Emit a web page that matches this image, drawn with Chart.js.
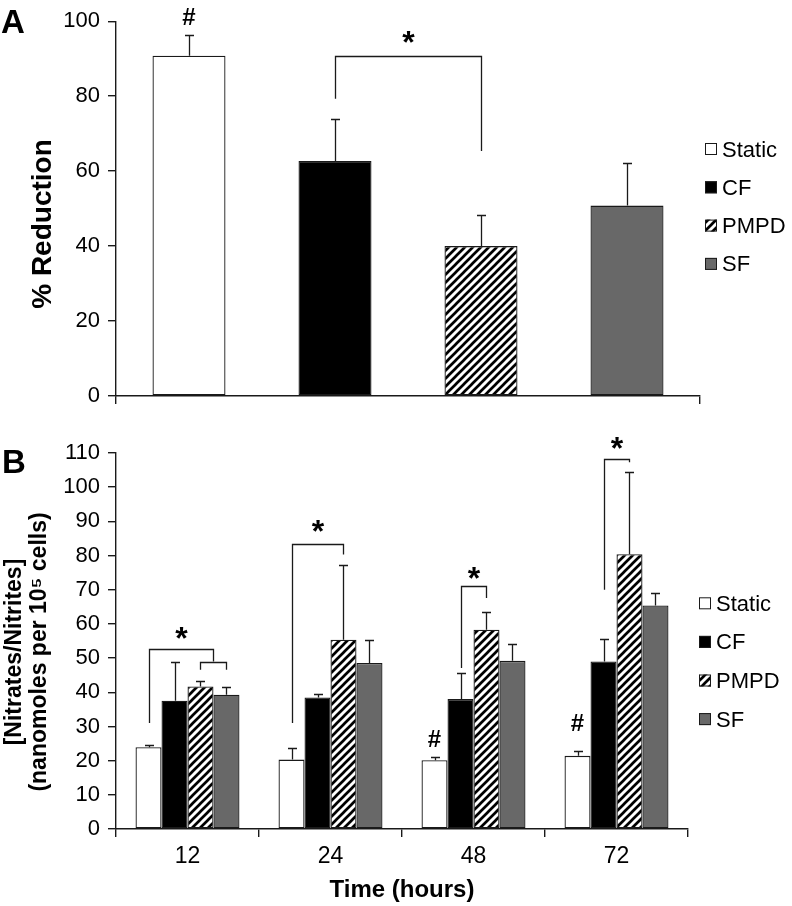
<!DOCTYPE html>
<html><head><meta charset="utf-8">
<script src="https://cdn.jsdelivr.net/npm/chart.js@4.4.1/dist/chart.umd.min.js"></script>
<style>
html,body{margin:0;padding:0;background:#fff;}
#wrap{position:relative;width:792px;height:906px;background:#fff;}
canvas{position:absolute;left:0;}
#cA{top:0;} #cB{top:420px;}
</style></head><body>
<div id="wrap"><canvas id="cA" width="792" height="420"></canvas><canvas id="cB" width="792" height="486"></canvas></div>
<script>
// ---------- data ----------
const seriesNames = ['Static', 'CF', 'PMPD', 'SF'];

// Panel A: % Reduction
const reductionMean = [90.8, 62.7, 40.0, 50.8];
const reductionErr  = [5.4, 11.3, 8.4, 11.4];

// Panel B: [Nitrates/Nitrites] by time
const timeLabels = ['12', '24', '48', '72'];
const staticNO = [23.9, 20.3, 20.1, 21.4];
const staticErr = [0.8, 3.4, 1.1, 1.5];
const cfNO = [37.5, 38.5, 38.0, 49.0];
const cfErr = [11.5, 1.0, 7.6, 6.7];
const pmpdNO = [41.7, 55.4, 58.3, 80.4];
const pmpdErr = [1.6, 21.9, 5.2, 24.0];
const sfNO = [39.3, 48.6, 49.2, 65.4];
const sfErr = [2.2, 6.6, 4.9, 3.5];

const yTicksA = [0, 20, 40, 60, 80, 100];
const yTicksB = [0, 10, 20, 30, 40, 50, 60, 70, 80, 90, 100, 110];

// significance brackets: category, dataset from/to, value heights
const bracketsA = [{cat: 0, from: 1, to: 2, fromBase: 79.3, top: 90.8, toBase: 65.4, star: 95.7}];
const bracketsB = [
  {cat: 0, from: 0, to: 2.5, fromBase: 31.0, top: 52.7, toBase: 49.0, star: 57.4},
  {cat: 0, from: 2, to: 3, fromBase: 46.6, top: 49.0, toBase: 46.6, star: null},
  {cat: 1, from: 0, to: 2, fromBase: 31.0, top: 83.5, toBase: 80.3, star: 88.5},
  {cat: 2, from: 1, to: 2, fromBase: 47.1, top: 71.0, toBase: 67.6, star: 74.9},
  {cat: 3, from: 1, to: 2, fromBase: 70.0, top: 108.2, toBase: 107.3, star: 112.9}
];
const hashesA = [{cat: 0, ds: 0, value: 101.2}];
const hashesB = [{cat: 2, ds: 0, value: 26.4}, {cat: 3, ds: 0, value: 31.2}];

// ---------- styles ----------
Chart.defaults.font.family = "'Liberation Sans', Arial, Helvetica, sans-serif";
Chart.defaults.color = '#000';

function hatchPattern() {
  const c = document.createElement('canvas');
  c.width = 8; c.height = 8;
  const g = c.getContext('2d');
  g.fillStyle = '#fff'; g.fillRect(0, 0, 8, 8);
  g.strokeStyle = '#000'; g.lineWidth = 2.7; g.lineCap = 'square';
  g.beginPath();
  g.moveTo(-2, 10); g.lineTo(10, -2);
  g.moveTo(-2, 2); g.lineTo(2, -2);
  g.moveTo(6, 10); g.lineTo(10, 6);
  g.stroke();
  return g.createPattern(c, 'repeat');
}
const fills = ['#ffffff', '#000000', hatchPattern(), '#686868'];

function makeDatasets(valuesList, errList) {
  return seriesNames.map((name, i) => ({
    label: name,
    data: valuesList[i],
    errors: errList[i],
    backgroundColor: fills[i],
    borderColor: '#1a1a1a',
    borderWidth: 1.3,
    borderSkipped: false
  }));
}

function centerText(ctx, text, x, cy) {
  const m = ctx.measureText(text);
  ctx.textBaseline = 'alphabetic';
  ctx.fillText(text, x, cy + (m.actualBoundingBoxAscent - m.actualBoundingBoxDescent) / 2);
}

const annotPlugin = {
  id: 'annot',
  afterDatasetsDraw(chart, args, opts) {
    const ctx = chart.ctx, ys = chart.scales.y;
    const barX = (ds, cat) => {
      const lo = Math.floor(ds), hi = Math.ceil(ds);
      const a = chart.getDatasetMeta(lo).data[cat].x, b = chart.getDatasetMeta(hi).data[cat].x;
      return a + (b - a) * (ds - lo);
    };
    ctx.save();
    ctx.strokeStyle = '#1a1a1a';
    ctx.lineWidth = 1.3;
    // error bars (one-sided, upward)
    chart.data.datasets.forEach((d, i) => {
      const meta = chart.getDatasetMeta(i);
      d.errors.forEach((e, j) => {
        const x = Math.round(meta.data[j].x) + 0.5;
        const y0 = ys.getPixelForValue(d.data[j]);
        const y1 = Math.round(ys.getPixelForValue(d.data[j] + e)) + 0.5;
        ctx.beginPath();
        ctx.moveTo(x, y0); ctx.lineTo(x, y1);
        ctx.moveTo(x - opts.cap, y1); ctx.lineTo(x + opts.cap, y1);
        ctx.stroke();
      });
    });
    // brackets
    ctx.fillStyle = '#000';
    ctx.textAlign = 'center';
    opts.brackets.forEach(b => {
      const x1 = Math.round(barX(b.from, b.cat)) + 0.5, x2 = Math.round(barX(b.to, b.cat)) + 0.5;
      const yt = Math.round(ys.getPixelForValue(b.top)) + 0.5;
      ctx.beginPath();
      ctx.moveTo(x1, ys.getPixelForValue(b.fromBase));
      ctx.lineTo(x1, yt); ctx.lineTo(x2, yt);
      ctx.lineTo(x2, ys.getPixelForValue(b.toBase));
      ctx.stroke();
      if (b.star !== null) {
        ctx.font = "bold 32px 'Liberation Sans', Arial, sans-serif";
        centerText(ctx, '*', (x1 + x2) / 2, ys.getPixelForValue(b.star));
      }
    });
    opts.hashes.forEach(h => {
      ctx.font = "bold 24px 'Liberation Sans', Arial, sans-serif";
      centerText(ctx, '#', barX(h.ds, h.cat), ys.getPixelForValue(h.value));
    });
    ctx.restore();
  },
  afterDraw(chart, args, opts) {
    const ctx = chart.ctx;
    ctx.save();
    // legend
    const L = opts.legend;
    chart.data.datasets.forEach((d, i) => {
      const cy = L.y + i * L.step;
      ctx.fillStyle = d.backgroundColor;
      ctx.fillRect(L.x, cy - 6, 12, 12);
      ctx.strokeStyle = '#1a1a1a'; ctx.lineWidth = 1;
      ctx.strokeRect(L.x + 0.5, cy - 5.5, 11, 11);
      ctx.fillStyle = '#000';
      ctx.font = "22px 'Liberation Sans', Arial, sans-serif";
      ctx.textAlign = 'left';
      centerText(ctx, d.label, L.x + 17, cy);
    });
    // y-axis title (rotated)
    const T = opts.ytitle;
    ctx.font = 'bold ' + T.size + "px 'Liberation Sans', Arial, sans-serif";
    ctx.textAlign = 'center';
    T.lines.forEach((line, k) => {
      ctx.save();
      ctx.translate(T.x[k], T.y);
      ctx.rotate(-Math.PI / 2);
      ctx.textBaseline = 'middle';
      ctx.fillText(line, 0, 0);
      ctx.restore();
    });
    // panel letter
    ctx.font = "bold 33px 'Liberation Sans', Arial, sans-serif";
    ctx.textAlign = 'left';
    ctx.textBaseline = 'alphabetic';
    ctx.fillText(opts.letter.text, opts.letter.x, opts.letter.y);
    ctx.restore();
  }
};

function axisCommon() {
  return {
    grid: {display: true, drawOnChartArea: false, drawTicks: true, tickLength: 8, color: '#1a1a1a', lineWidth: 1.4},
    border: {display: true, color: '#1a1a1a', width: 1.4}
  };
}

// ---------- Panel A ----------
new Chart(document.getElementById('cA'), {
  type: 'bar',
  data: {labels: [''], datasets: makeDatasets(reductionMean.map(v => [v]), reductionErr.map(v => [v]))},
  options: {
    responsive: false, animation: false, events: [],
    layout: {padding: {top: 18, right: 92, bottom: 0, left: 0}},
    datasets: {bar: {categoryPercentage: 1.0, barPercentage: 0.5}},
    plugins: {
      legend: {display: false}, tooltip: {enabled: false},
      annot: {
        cap: 4.5, brackets: bracketsA, hashes: hashesA,
        legend: {x: 705, y: 149, step: 38.3},
        ytitle: {lines: ['% Reduction'], size: 28, x: [43], y: 224},
        letter: {text: 'A', x: 1, y: 33}
      }
    },
    scales: {
      x: Object.assign(axisCommon(), {
        ticks: {display: true, font: {size: 1}},
        afterFit: s => { s.height = 24; }
      }),
      y: Object.assign(axisCommon(), {
        min: 0, max: 100,
        afterBuildTicks: s => { s.ticks = yTicksA.map(v => ({value: v})); },
        ticks: {font: {size: 22}, padding: 8, color: '#000'},
        afterFit: s => { s.width = 116; }
      })
    }
  },
  plugins: [annotPlugin]
});

// ---------- Panel B ----------
new Chart(document.getElementById('cB'), {
  type: 'bar',
  data: {labels: timeLabels, datasets: makeDatasets([staticNO, cfNO, pmpdNO, sfNO], [staticErr, cfErr, pmpdErr, sfErr])},
  options: {
    responsive: false, animation: false, events: [],
    layout: {padding: {top: 33, right: 104, bottom: 0, left: 0}},
    datasets: {bar: {categoryPercentage: 0.727, barPercentage: 1.0}},
    plugins: {
      legend: {display: false}, tooltip: {enabled: false},
      annot: {
        cap: 4.5, brackets: bracketsB, hashes: hashesB,
        legend: {x: 699, y: 183.3, step: 38.6},
        ytitle: {lines: ['[Nitrates/Nitrites]', '(nanomoles per 10\u2075 cells)'], size: 23, x: [15, 40], y: 232},
        letter: {text: 'B', x: 2, y: 53}
      }
    },
    scales: {
      x: Object.assign(axisCommon(), {
        ticks: {font: {size: 23}, padding: 6, color: '#000'},
        title: {display: true, text: 'Time (hours)', font: {size: 24, weight: 'bold'}, color: '#000', padding: {top: 0, bottom: 1}},
        afterFit: s => { s.height = 77; }
      }),
      y: Object.assign(axisCommon(), {
        min: 0, max: 110,
        afterBuildTicks: s => { s.ticks = yTicksB.map(v => ({value: v})); },
        ticks: {font: {size: 22}, padding: 8, color: '#000'},
        afterFit: s => { s.width = 116; }
      })
    }
  },
  plugins: [annotPlugin]
});
</script>
</body></html>
